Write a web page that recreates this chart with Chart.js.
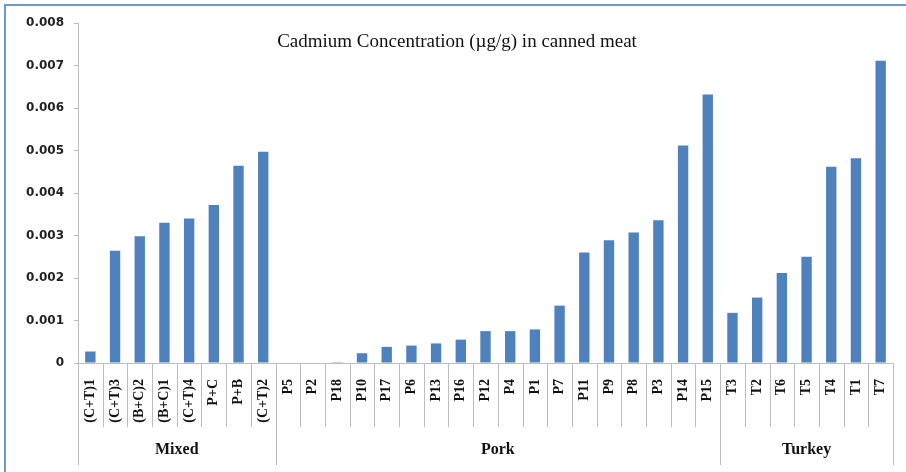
<!DOCTYPE html>
<html>
<head>
<meta charset="utf-8">
<script src="https://cdn.jsdelivr.net/npm/chart.js@4/dist/chart.umd.min.js"></script>
<style>
  body { margin: 0; background: #fff; }
  #wrap { position: relative; width: 906px; height: 472px; }
</style>
</head>
<body>
<div id="wrap"><canvas id="cdChart" width="906" height="472"></canvas></div>
<script>
const sampleLabels = [
  '(C+T)1', '(C+T)3', '(B+C)2', '(B+C)1', '(C+T)4', 'P+C', 'P+B', '(C+T)2',
  'P5', 'P2', 'P18', 'P10', 'P17', 'P6', 'P13', 'P16', 'P12', 'P4', 'P1', 'P7',
  'P11', 'P9', 'P8', 'P3', 'P14', 'P15',
  'T3', 'T2', 'T6', 'T5', 'T4', 'T1', 'T7'
];
const cadmiumValues = [
  0.00027, 0.00264, 0.00298, 0.0033, 0.0034, 0.00372, 0.00464, 0.00497,
  0, 0, 0.00002, 0.00023, 0.00038, 0.00041, 0.00046, 0.00055, 0.00075, 0.00075, 0.00079, 0.00135,
  0.0026, 0.00289, 0.00307, 0.00336, 0.00512, 0.00632,
  0.00118, 0.00154, 0.00212, 0.0025, 0.00462, 0.00482, 0.00711
];
const groupNames = ['Mixed', 'Pork', 'Turkey'];
const groupSizes = [8, 18, 7];
const yTicks = [0, 0.001, 0.002, 0.003, 0.004, 0.005, 0.006, 0.007, 0.008];

const axisGrey = '#bdbdbd';

// frame, title, category separators and group labels
const extrasPlugin = {
  id: 'extras',
  beforeDraw(chart) {
    const ctx = chart.ctx;
    ctx.save();
    ctx.fillStyle = '#fff';
    ctx.fillRect(0, 0, chart.width, chart.height);
    ctx.strokeStyle = '#6b98d4';
    ctx.lineWidth = 2;
    ctx.beginPath();
    ctx.moveTo(5, chart.height);
    ctx.lineTo(5, 5);
    ctx.lineTo(chart.width, 5);
    ctx.stroke();
    ctx.restore();
  },
  afterDraw(chart) {
    const ctx = chart.ctx;
    const xs = chart.scales.x;
    const area = chart.chartArea;
    const n = sampleLabels.length;
    const step = xs.getPixelForValue(1) - xs.getPixelForValue(0);

    const bounds = [0];
    groupSizes.forEach((s, i) => bounds.push(bounds[i] + s));

    ctx.save();
    ctx.strokeStyle = axisGrey;
    ctx.lineWidth = 1;
    for (let i = 0; i <= n; i++) {
      const x = Math.round(xs.getPixelForValue(Math.min(i, n - 1)) + (i === n ? step / 2 : -step / 2)) + 0.5;
      const long = bounds.includes(i);
      ctx.beginPath();
      ctx.moveTo(x, area.bottom);
      ctx.lineTo(x, area.bottom + (long ? 102 : 64));
      ctx.stroke();
    }

    ctx.fillStyle = '#111';
    ctx.font = 'bold 16px "Liberation Serif", "Times New Roman", serif';
    ctx.textAlign = 'center';
    ctx.textBaseline = 'middle';
    groupNames.forEach((name, g) => {
      const x0 = xs.getPixelForValue(bounds[g]) - step / 2;
      const x1 = xs.getPixelForValue(bounds[g + 1] - 1) + step / 2;
      ctx.fillText(name, (x0 + x1) / 2, area.bottom + 87);
    });

    ctx.fillStyle = '#111';
    ctx.font = '19px "Liberation Serif", "Times New Roman", serif';
    ctx.fillText('Cadmium Concentration (\u00b5g/g) in canned meat', chart.width / 2 + 4, 42);
    ctx.restore();
  }
};

const ctxCd = document.getElementById('cdChart').getContext('2d');
const cdChart = new Chart(ctxCd, {
  type: 'bar',
  data: {
    labels: sampleLabels,
    datasets: [{
      data: cadmiumValues,
      backgroundColor: '#4f81bd',
      borderWidth: 0,
      categoryPercentage: 1,
      barPercentage: 0.42
    }]
  },
  options: {
    responsive: false,
    animation: false,
    devicePixelRatio: 1,
    layout: { padding: { top: 23, right: 13, bottom: 0, left: 0 } },
    plugins: {
      legend: { display: false },
      tooltip: { enabled: false }
    },
    scales: {
      x: {
        type: 'category',
        grid: { display: false },
        border: { display: true, color: axisGrey, width: 1 },
        ticks: {
          autoSkip: false,
          minRotation: 90,
          maxRotation: 90,
          padding: 8,
          color: '#111',
          font: { family: '"Liberation Serif", "Times New Roman", serif', size: 14, weight: 'bold' }
        },
        afterFit(scale) { scale.height = 109; }
      },
      y: {
        min: 0,
        max: 0.008,
        afterBuildTicks(scale) { scale.ticks = yTicks.map(v => ({ value: v })); },
        grid: { drawOnChartArea: false, drawTicks: true, tickLength: 4, color: axisGrey },
        border: { display: true, color: axisGrey, width: 1 },
        ticks: {
          padding: 10,
          color: '#222',
          font: { family: '"DejaVu Sans", Verdana, sans-serif', size: 12, weight: 'bold' },
          callback: v => v === 0 ? '0' : v.toFixed(3)
        },
        afterFit(scale) { scale.width = 78; }
      }
    }
  },
  plugins: [extrasPlugin]
});
</script>
</body>
</html>
